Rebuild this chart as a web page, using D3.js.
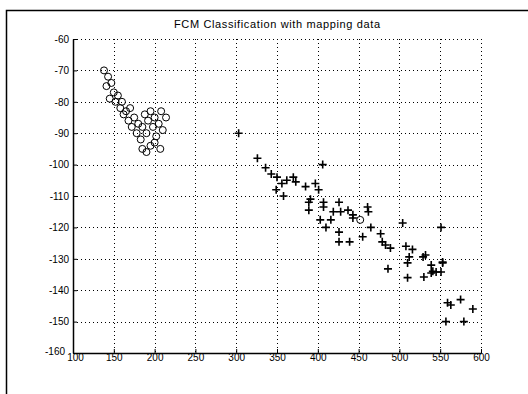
<!DOCTYPE html>
<html>
<head>
<meta charset="utf-8">
<script src="https://cdn.jsdelivr.net/npm/d3@7"></script>
<style>
  body { margin: 0; background: #fff; }
  svg { display: block; }
  text { font-family: "Liberation Sans", Arial, sans-serif; fill: #000; }
</style>
</head>
<body>
<div id="chart"></div>
<script>
const xTicks = [100, 150, 200, 250, 300, 350, 400, 450, 500, 550, 600];
const yTicks = [-60, -70, -80, -90, -100, -110, -120, -130, -140, -150, -160];
const yTickLabels = ["-60", "-70", "-80", "-90", "-100", "-110", "-120", "-130", "-140", "-150", "-160"];

// class 1 (circles)
const circX = [138, 143, 141, 147, 150, 145, 152, 155, 158, 160, 162, 165, 168, 170, 172, 175, 178, 180, 183, 185, 188, 190, 192, 195, 198, 200, 202, 205, 208, 210, 214, 185, 190, 195, 200, 207, 452];
const circY = [-70, -72, -75, -74, -77, -79, -80, -78, -82, -80, -84, -83, -86, -82, -88, -85, -90, -87, -92, -88, -84, -90, -86, -83, -88, -85, -91, -87, -83, -89, -85, -95, -96, -94, -93, -95, -117.6];

// class 2 (plus)
const plusX = [303, 326, 336, 343, 350, 356, 362, 349, 358, 406, 370, 373, 385, 397, 401, 391, 389, 389, 407, 407, 426, 419, 428, 437, 443, 443, 461, 462, 465, 403, 410, 416, 426, 426, 439, 455, 477, 479, 483, 489, 504, 508, 516, 512, 529, 532, 510, 539, 553, 486, 510, 530, 539, 545, 551, 551, 553, 541, 559, 563, 575, 590, 557, 579];
const plusY = [-90, -98, -101, -103, -104, -106, -105, -108, -110, -100, -104, -105.5, -107, -106, -108, -111, -112, -114.5, -112, -113.5, -112, -115, -115, -114.5, -116, -117, -113.5, -115, -120, -117.6, -120, -117.6, -121.5, -124.6, -124.6, -123, -122, -124.6, -125.6, -126.6, -118.6, -126, -127, -129.4, -129.4, -128.8, -131.3, -132, -131.3, -133.2, -136, -135.8, -134.5, -134.2, -134.2, -120, -131, -134, -144, -144.7, -143, -146, -150, -150];

const W = 528, H = 394;
const svg = d3.select("#chart").append("svg")
    .attr("width", W)
    .attr("height", H);

// figure frame (left and top edges only are inside the picture)
svg.append("path")
    .attr("d", "M6.5,394V10.5H528")
    .attr("fill", "none")
    .attr("stroke", "#000")
    .attr("stroke-width", 1.5);

const x = d3.scaleLinear().domain([100, 600]).range([73, 481]);
const y = d3.scaleLinear().domain([-160, -60]).range([353, 39]);

// title
svg.append("text")
    .attr("x", (x(100) + x(600)) / 2)
    .attr("y", 28)
    .attr("text-anchor", "middle")
    .attr("font-size", 11)
    .attr("textLength", 206)
    .attr("lengthAdjust", "spacing")
    .text("FCM Classification with mapping data");

// grid
const grid = svg.append("g")
    .attr("stroke", "#000")
    .attr("stroke-width", 1)
    .attr("stroke-dasharray", "1,3");
grid.selectAll(".vg").data(xTicks.slice(1))
    .enter().append("line")
    .attr("x1", d => Math.round(x(d)) + 0.5).attr("x2", d => Math.round(x(d)) + 0.5)
    .attr("y1", y(-60)).attr("y2", y(-160));
grid.selectAll(".hg").data(yTicks.slice(0, -1))
    .enter().append("line")
    .attr("x1", x(100)).attr("x2", x(600))
    .attr("y1", d => Math.round(y(d)) + 0.5).attr("y2", d => Math.round(y(d)) + 0.5);

// axes
const xAxis = svg.append("g")
    .attr("transform", `translate(0,${y(-160)})`)
    .call(d3.axisBottom(x).tickValues(xTicks).tickSize(-4).tickPadding(1).tickSizeOuter(0));
const yAxis = svg.append("g")
    .attr("transform", `translate(${x(100)},0)`)
    .call(d3.axisLeft(y).tickValues(yTicks).tickFormat((d, i) => yTickLabels[i]).tickSize(-4).tickPadding(4).tickSizeOuter(0));
[xAxis, yAxis].forEach(a => {
    a.select(".domain").attr("stroke", "#000").attr("stroke-width", 1.5);
    a.selectAll(".tick line").attr("stroke", "#000");
    a.selectAll("text").attr("font-size", 10)
        .attr("font-family", "'Liberation Sans', Arial, sans-serif");
});
// corner labels sit side by side as in the original
yAxis.selectAll(".tick text").filter(d => d === -160).attr("dx", -4).attr("dy", "0.1em");
xAxis.selectAll(".tick text").filter(d => d === 100).attr("dx", 2);

// circles
svg.append("g").selectAll("circle")
    .data(circX.map((v, i) => [v, circY[i]]))
    .enter().append("circle")
    .attr("cx", d => x(d[0]))
    .attr("cy", d => y(d[1]))
    .attr("r", 3.5)
    .attr("fill", "none")
    .attr("stroke", "#000")
    .attr("stroke-width", 1);

// plus markers
const s = 4;
svg.append("g").selectAll("path.plus")
    .data(plusX.map((v, i) => [v, plusY[i]]))
    .enter().append("path")
    .attr("class", "plus")
    .attr("d", d => {
        const cx = x(d[0]), cy = y(d[1]);
        return `M${cx - s},${cy}H${cx + s}M${cx},${cy - s}V${cy + s}`;
    })
    .attr("stroke", "#000")
    .attr("stroke-width", 1.6);
</script>
</body>
</html>
